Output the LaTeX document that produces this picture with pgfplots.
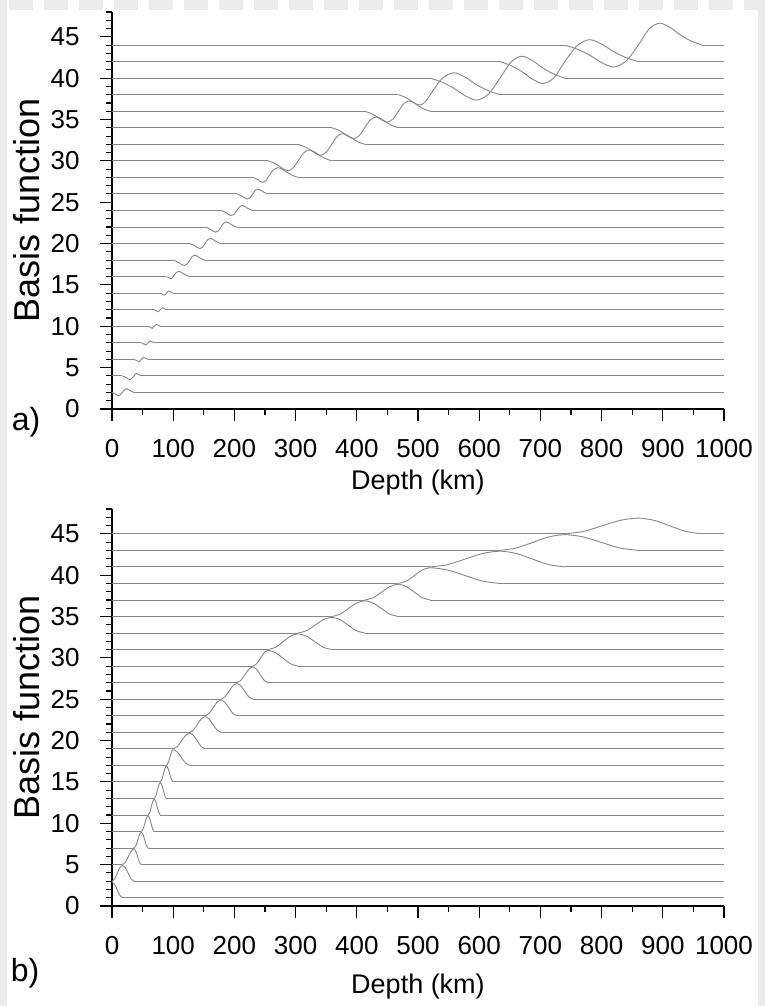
\documentclass[border=0pt]{standalone}
\usepackage{pgfplots}
\pgfplotsset{compat=1.18}
\usepackage{fontspec}
\setmainfont{Liberation Sans}
\definecolor{curvecol}{RGB}{135,135,135}
\definecolor{framecol}{RGB}{236,236,236}
\pgfplotsset{
  flat/.style={curvecol, line width=0.9bp, no marks, unbounded coords=jump},
  bump/.style={curvecol, line width=0.9bp, no marks, smooth},
  myaxis/.style={
    scale only axis, width=612bp, height=397bp,
    anchor=south west,
    xmin=0, xmax=1000, ymin=0, ymax=48,
    axis x line*=bottom, axis y line*=left,
    axis line style={line width=2.6bp, black},
    xtick={0,100,...,1000}, minor xtick={50,150,...,950},
    ytick={0,5,...,45}, minor ytick={0,1,...,48},
    tick align=outside,
    major tick length=12bp, minor tick length=6bp,
    every tick/.style={black, line width=1.1bp},
    every minor tick/.style={black, line width=1.1bp},
    /pgf/number format/assume math mode=true,
    /pgf/number format/1000 sep={},
    tick label style={font=\fontsize{26bp}{30bp}\selectfont},
    xticklabel style={yshift=-15bp},
    yticklabel style={xshift=-17bp},
    xlabel={Depth (km)},
    ylabel={Basis function},
    xlabel style={font=\fontsize{27bp}{32bp}\selectfont, at={(axis description cs:0.5,-0.1864)}, anchor=center},
    ylabel style={font=\fontsize{36bp}{40bp}\selectfont, at={(axis description cs:-0.139,0.5)}, anchor=center},
    clip=false,
  },
}
\begin{document}
\begin{tikzpicture}
\useasboundingbox (0,0) rectangle (765bp,1006bp);
\fill[white] (0,0) rectangle (765bp,1006bp);
\fill[framecol] (0,0) rectangle (7bp,1006bp);
\fill[framecol] (758bp,0) rectangle (765bp,1006bp);
\draw[framecol, line width=10bp, dash pattern=on 24bp off 11bp] (9bp,1001bp) -- (765bp,1001bp);

% ---------------- panel a ----------------
\begin{axis}[myaxis, at={(112bp,597bp)}]
\addplot[flat] coordinates {(36,2) (1000,2)};
\addplot[bump] coordinates {(0,2) (5.7,1.82) (11.3,1.59) (17,2) (23.3,2.46) (29.7,2.21) (36,2)};
\addplot[flat] coordinates {(0,4) (17,4) (30,nan) (48,4) (1000,4)};
\addplot[bump] coordinates {(17,4) (23.3,3.79) (29.7,3.54) (36,4) (40,4.29) (44,4.13) (48,4)};
\addplot[flat] coordinates {(0,6) (36,6) (45,nan) (59,6) (1000,6)};
\addplot[bump] coordinates {(36,6) (40,5.87) (44,5.71) (48,6) (51.7,6.26) (55.3,6.12) (59,6)};
\addplot[flat] coordinates {(0,8) (48,8) (55,nan) (69,8) (1000,8)};
\addplot[bump] coordinates {(48,8) (51.7,7.88) (55.3,7.74) (59,8) (62.3,8.24) (65.7,8.11) (69,8)};
\addplot[flat] coordinates {(0,10) (59,10) (65,nan) (79,10) (1000,10)};
\addplot[bump] coordinates {(59,10) (62.3,9.89) (65.7,9.76) (69,10) (72.3,10.24) (75.7,10.11) (79,10)};
\addplot[flat] coordinates {(0,12) (69,12) (75,nan) (89,12) (1000,12)};
\addplot[bump] coordinates {(69,12) (72.3,11.89) (75.7,11.76) (79,12) (82.3,12.24) (85.7,12.11) (89,12)};
\addplot[flat] coordinates {(0,14) (79,14) (85,nan) (100,14) (1000,14)};
\addplot[bump] coordinates {(79,14) (82.3,13.89) (85.7,13.76) (89,14) (92.7,14.26) (96.3,14.12) (100,14)};
\addplot[flat] coordinates {(0,16) (89,16) (100,nan) (127,16) (1000,16)};
\addplot[bump] coordinates {(89,16) (92.7,15.88) (96.3,15.74) (100,16) (104.5,16.47) (109,16.65) (113.5,16.52) (118,16.29) (122.5,16.12) (127,16)};
\addplot[flat] coordinates {(0,18) (100,18) (120,nan) (152,18) (1000,18)};
\addplot[bump] coordinates {(100,18) (104.5,17.88) (109,17.71) (113.5,17.48) (118,17.35) (122.5,17.53) (127,18) (131.2,18.44) (135.3,18.6) (139.5,18.48) (143.7,18.27) (147.8,18.11) (152,18)};
\addplot[flat] coordinates {(0,20) (127,20) (150,nan) (178,20) (1000,20)};
\addplot[bump] coordinates {(127,20) (131.2,19.89) (135.3,19.73) (139.5,19.52) (143.7,19.4) (147.8,19.56) (152,20) (156.3,20.45) (160.7,20.62) (165,20.5) (169.3,20.28) (173.7,20.11) (178,20)};
\addplot[flat] coordinates {(0,22) (152,22) (175,nan) (204,22) (1000,22)};
\addplot[bump] coordinates {(152,22) (156.3,21.89) (160.7,21.72) (165,21.5) (169.3,21.38) (173.7,21.55) (178,22) (182.3,22.45) (186.7,22.62) (191,22.5) (195.3,22.28) (199.7,22.11) (204,22)};
\addplot[flat] coordinates {(0,24) (178,24) (200,nan) (230,24) (1000,24)};
\addplot[bump] coordinates {(178,24) (182.3,23.89) (186.7,23.72) (191,23.5) (195.3,23.38) (199.7,23.55) (204,24) (208.3,24.45) (212.7,24.62) (217,24.5) (221.3,24.28) (225.7,24.11) (230,24)};
\addplot[flat] coordinates {(0,26) (204,26) (230,nan) (255,26) (1000,26)};
\addplot[bump] coordinates {(204,26) (208.3,25.89) (212.7,25.72) (217,25.5) (221.3,25.38) (225.7,25.55) (230,26) (234.2,26.44) (238.3,26.6) (242.5,26.48) (246.7,26.27) (250.8,26.11) (255,26)};
\addplot[flat] coordinates {(0,28) (230,28) (260,nan) (304,28) (1000,28)};
\addplot[bump] coordinates {(230,28) (234.2,27.89) (238.3,27.73) (242.5,27.52) (246.7,27.4) (250.8,27.56) (255,28) (263.2,28.86) (271.3,29.18) (279.5,28.94) (287.7,28.53) (295.8,28.21) (304,28)};
\addplot[flat] coordinates {(0,30) (255,30) (300,nan) (359,30) (1000,30)};
\addplot[bump] coordinates {(255,30) (263.2,29.79) (271.3,29.47) (279.5,29.06) (287.7,28.82) (295.8,29.14) (304,30) (313.2,30.96) (322.3,31.32) (331.5,31.06) (340.7,30.59) (349.8,30.24) (359,30)};
\addplot[flat] coordinates {(0,32) (304,32) (350,nan) (413,32) (1000,32)};
\addplot[bump] coordinates {(304,32) (313.2,31.76) (322.3,31.41) (331.5,30.94) (340.7,30.68) (349.8,31.04) (359,32) (368,32.95) (377,33.3) (386,33.04) (395,32.59) (404,32.23) (413,32)};
\addplot[flat] coordinates {(0,34) (359,34) (400,nan) (468,34) (1000,34)};
\addplot[bump] coordinates {(359,34) (368,33.77) (377,33.41) (386,32.96) (395,32.7) (404,33.05) (413,34) (422.2,34.96) (431.3,35.32) (440.5,35.06) (449.7,34.59) (458.8,34.24) (468,34)};
\addplot[flat] coordinates {(0,36) (413,36) (460,nan) (520,36) (1000,36)};
\addplot[bump] coordinates {(413,36) (422.2,35.76) (431.3,35.41) (440.5,34.94) (449.7,34.68) (458.8,35.04) (468,36) (476.7,36.91) (485.3,37.25) (494,37) (502.7,36.56) (511.3,36.23) (520,36)};
\addplot[flat] coordinates {(0,38) (468,38) (550,nan) (634,38) (1000,38)};
\addplot[bump] coordinates {(468,38) (476.7,37.77) (485.3,37.44) (494,37) (502.7,36.75) (511.3,37.09) (520,38) (539,39.93) (558,40.65) (577,40.12) (596,39.19) (615,38.48) (634,38)};
\addplot[flat] coordinates {(0,40) (520,40) (630,nan) (740,40) (1000,40)};
\addplot[bump] coordinates {(520,40) (539,39.52) (558,38.81) (577,37.88) (596,37.35) (615,38.07) (634,40) (651.7,41.93) (669.3,42.65) (687,42.12) (704.7,41.19) (722.3,40.48) (740,40)};
\addplot[flat] coordinates {(0,42) (634,42) (750,nan) (860,42) (1000,42)};
\addplot[bump] coordinates {(634,42) (651.7,41.52) (669.3,40.81) (687,39.88) (704.7,39.35) (722.3,40.07) (740,42) (760,43.93) (780,44.65) (800,44.12) (820,43.19) (840,42.48) (860,42)};
\addplot[flat] coordinates {(0,44) (740,44) (850,nan) (964,44) (1000,44)};
\addplot[bump] coordinates {(740,44) (760,43.52) (780,42.81) (800,41.88) (820,41.35) (840,42.07) (860,44) (877.3,45.93) (894.7,46.65) (912,46.12) (929.3,45.19) (946.7,44.48) (964,44)};
\end{axis}

% ---------------- panel b ----------------
\begin{axis}[myaxis, at={(112bp,100bp)}, xlabel style={at={(axis description cs:0.5,-0.2033)}}]
\addplot[flat] coordinates {(17,1) (1000,1)};
\addplot[bump] coordinates {(0,2.9) (4.25,2.62) (8.5,1.95) (12.75,1.28) (17,1)};
\addplot[flat] coordinates {(36,3) (1000,3)};
\addplot[bump] coordinates {(0,3) (4.25,3.28) (8.5,3.95) (12.75,4.62) (17,4.9) (21.75,4.62) (26.5,3.95) (31.25,3.28) (36,3)};
\addplot[flat] coordinates {(0,5) (17,5) (30,nan) (48,5) (1000,5)};
\addplot[bump] coordinates {(17,5) (21.75,5.28) (26.5,5.95) (31.25,6.62) (36,6.9) (39,6.62) (42,5.95) (45,5.28) (48,5)};
\addplot[flat] coordinates {(0,7) (36,7) (45,nan) (59,7) (1000,7)};
\addplot[bump] coordinates {(36,7) (39,7.28) (42,7.95) (45,8.62) (48,8.9) (50.75,8.62) (53.5,7.95) (56.25,7.28) (59,7)};
\addplot[flat] coordinates {(0,9) (48,9) (55,nan) (69,9) (1000,9)};
\addplot[bump] coordinates {(48,9) (50.75,9.28) (53.5,9.95) (56.25,10.62) (59,10.9) (61.5,10.62) (64,9.95) (66.5,9.28) (69,9)};
\addplot[flat] coordinates {(0,11) (59,11) (65,nan) (79,11) (1000,11)};
\addplot[bump] coordinates {(59,11) (61.5,11.28) (64,11.95) (66.5,12.62) (69,12.9) (71.5,12.62) (74,11.95) (76.5,11.28) (79,11)};
\addplot[flat] coordinates {(0,13) (69,13) (75,nan) (89,13) (1000,13)};
\addplot[bump] coordinates {(69,13) (71.5,13.28) (74,13.95) (76.5,14.62) (79,14.9) (81.5,14.62) (84,13.95) (86.5,13.28) (89,13)};
\addplot[flat] coordinates {(0,15) (79,15) (85,nan) (100,15) (1000,15)};
\addplot[bump] coordinates {(79,15) (81.5,15.28) (84,15.95) (86.5,16.62) (89,16.9) (91.75,16.62) (94.5,15.95) (97.25,15.28) (100,15)};
\addplot[flat] coordinates {(0,17) (89,17) (100,nan) (127,17) (1000,17)};
\addplot[bump] coordinates {(89,17) (91.75,17.28) (94.5,17.95) (97.25,18.62) (100,18.9) (106.75,18.62) (113.5,17.95) (120.25,17.28) (127,17)};
\addplot[flat] coordinates {(0,19) (100,19) (120,nan) (152,19) (1000,19)};
\addplot[bump] coordinates {(100,19) (106.75,19.28) (113.5,19.95) (120.25,20.62) (127,20.9) (133.25,20.62) (139.5,19.95) (145.75,19.28) (152,19)};
\addplot[flat] coordinates {(0,21) (127,21) (150,nan) (178,21) (1000,21)};
\addplot[bump] coordinates {(127,21) (133.25,21.28) (139.5,21.95) (145.75,22.62) (152,22.9) (158.5,22.62) (165,21.95) (171.5,21.28) (178,21)};
\addplot[flat] coordinates {(0,23) (152,23) (175,nan) (204,23) (1000,23)};
\addplot[bump] coordinates {(152,23) (158.5,23.28) (165,23.95) (171.5,24.62) (178,24.9) (184.5,24.62) (191,23.95) (197.5,23.28) (204,23)};
\addplot[flat] coordinates {(0,25) (178,25) (200,nan) (230,25) (1000,25)};
\addplot[bump] coordinates {(178,25) (184.5,25.28) (191,25.95) (197.5,26.62) (204,26.9) (210.5,26.62) (217,25.95) (223.5,25.28) (230,25)};
\addplot[flat] coordinates {(0,27) (204,27) (230,nan) (255,27) (1000,27)};
\addplot[bump] coordinates {(204,27) (210.5,27.28) (217,27.95) (223.5,28.62) (230,28.9) (236.25,28.62) (242.5,27.95) (248.75,27.28) (255,27)};
\addplot[flat] coordinates {(0,29) (230,29) (260,nan) (304,29) (1000,29)};
\addplot[bump] coordinates {(230,29) (236.25,29.28) (242.5,29.95) (248.75,30.62) (255,30.9) (267.25,30.62) (279.5,29.95) (291.75,29.28) (304,29)};
\addplot[flat] coordinates {(0,31) (255,31) (300,nan) (359,31) (1000,31)};
\addplot[bump] coordinates {(255,31) (267.25,31.28) (279.5,31.95) (291.75,32.62) (304,32.9) (317.75,32.62) (331.5,31.95) (345.25,31.28) (359,31)};
\addplot[flat] coordinates {(0,33) (304,33) (350,nan) (413,33) (1000,33)};
\addplot[bump] coordinates {(304,33) (317.75,33.28) (331.5,33.95) (345.25,34.62) (359,34.9) (372.5,34.62) (386,33.95) (399.5,33.28) (413,33)};
\addplot[flat] coordinates {(0,35) (359,35) (400,nan) (468,35) (1000,35)};
\addplot[bump] coordinates {(359,35) (372.5,35.28) (386,35.95) (399.5,36.62) (413,36.9) (426.75,36.62) (440.5,35.95) (454.25,35.28) (468,35)};
\addplot[flat] coordinates {(0,37) (413,37) (460,nan) (520,37) (1000,37)};
\addplot[bump] coordinates {(413,37) (426.75,37.28) (440.5,37.95) (454.25,38.62) (468,38.9) (481,38.62) (494,37.95) (507,37.28) (520,37)};
\addplot[flat] coordinates {(0,39) (468,39) (550,nan) (634,39) (1000,39)};
\addplot[bump] coordinates {(468,39) (481,39.28) (494,39.95) (507,40.62) (520,40.9) (548.5,40.62) (577,39.95) (605.5,39.28) (634,39)};
\addplot[flat] coordinates {(0,41) (520,41) (630,nan) (740,41) (1000,41)};
\addplot[bump] coordinates {(520,41) (548.5,41.28) (577,41.95) (605.5,42.62) (634,42.9) (660.5,42.62) (687,41.95) (713.5,41.28) (740,41)};
\addplot[flat] coordinates {(0,43) (634,43) (750,nan) (860,43) (1000,43)};
\addplot[bump] coordinates {(634,43) (660.5,43.28) (687,43.95) (713.5,44.62) (740,44.9) (770,44.62) (800,43.95) (830,43.28) (860,43)};
\addplot[flat] coordinates {(0,45) (740,45) (850,nan) (964,45) (1000,45)};
\addplot[bump] coordinates {(740,45) (770,45.28) (800,45.95) (830,46.62) (860,46.9) (886,46.62) (912,45.95) (938,45.28) (964,45)};
\end{axis}

\node[font=\fontsize{32bp}{36bp}\selectfont] at (26bp,584bp) {a)};
\node[font=\fontsize{32bp}{36bp}\selectfont] at (25bp,33bp) {b)};
\end{tikzpicture}
\end{document}
